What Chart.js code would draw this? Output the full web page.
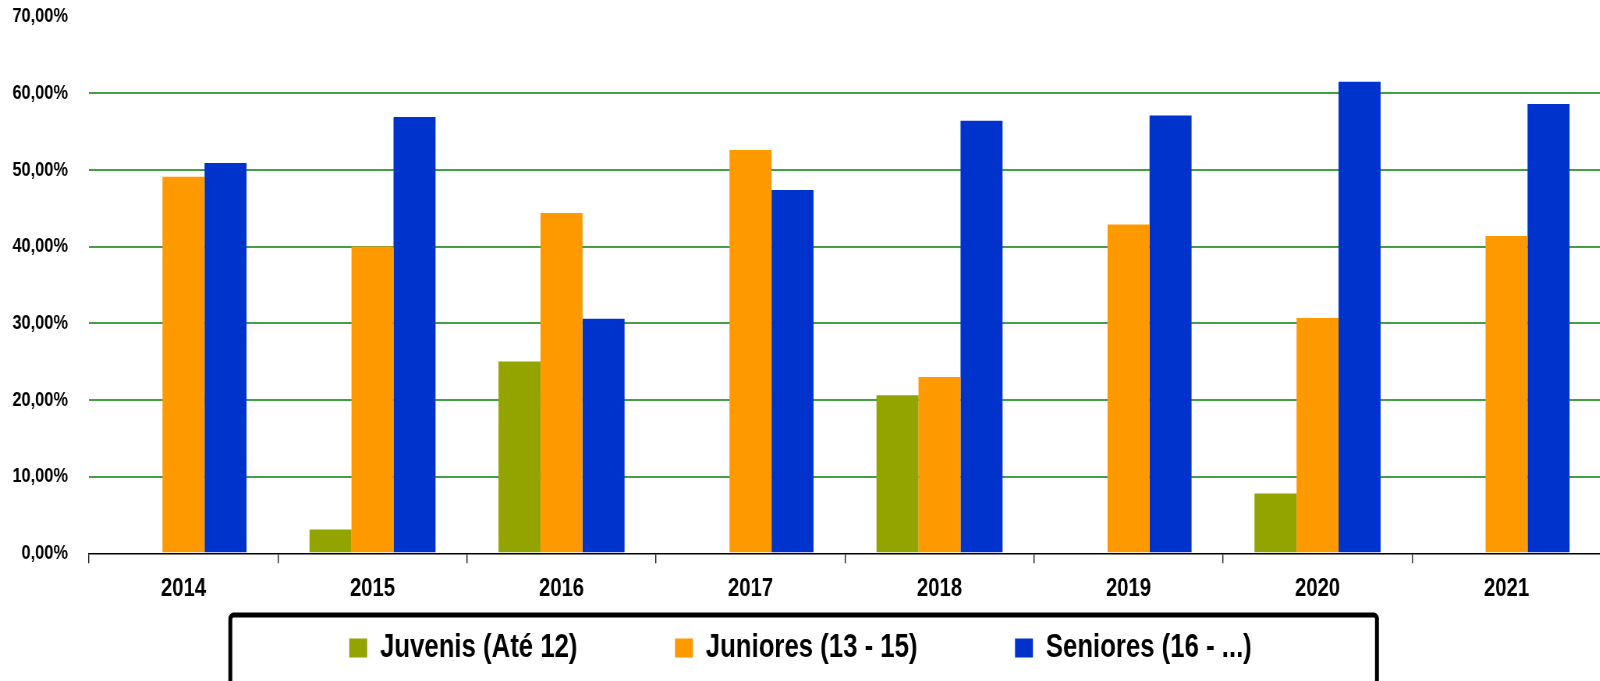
<!DOCTYPE html>
<html>
<head>
<meta charset="utf-8">
<script src="https://cdn.jsdelivr.net/npm/chart.js"></script>
<style>
  html, body { margin: 0; padding: 0; background: #fff; overflow: hidden; }
  #wrap { width: 1600px; height: 681px; overflow: hidden; position: relative; }
  /* a fonte do original é condensada: o canvas inteiro é comprimido na horizontal */
  #chart { position: absolute; left: 0; top: -23px; transform: scaleX(0.78); transform-origin: 0 0; }
</style>
</head>
<body>
<div id="wrap"><canvas id="chart" width="2054" height="720"></canvas></div>
<script>
// dados (percentagens por escalão)
const years = ['2014', '2015', '2016', '2017', '2018', '2019', '2020', '2021'];
const juvenis = [0, 3.1, 25.0, 0, 20.6, 0, 7.8, 0];
const juniores = [49.1, 40.0, 44.4, 52.6, 23.0, 42.9, 30.7, 41.4];
const seniores = [50.9, 56.9, 30.6, 47.4, 56.4, 57.1, 61.5, 58.6];
const yTicks = [0, 10, 20, 30, 40, 50, 60, 70];

const FONT = '"Liberation Sans", Arial, sans-serif';
const LEG_FONT = 33;
const LEG_PAD = 125;
const LEG_CENTER = 671; // centro vertical dos itens da legenda (px do canvas)
const FRAME_TOP = 638;

// a legenda usa o mesmo padding na vertical e na horizontal; sobe-se a caixa
const legendShift = {
  id: 'legendShift',
  afterLayout(chart) {
    const lg = chart.legend;
    if (!lg) return;
    lg.top = LEG_CENTER - LEG_FONT / 2 - LEG_PAD;
    lg.bottom = chart.height;
    lg.height = lg.bottom - lg.top;
  }
};

// moldura preta à volta da legenda
const legendFrame = {
  id: 'legendFrame',
  afterDraw(chart) {
    const lg = chart.legend;
    if (!lg) return;
    const cx = (lg.left + lg.right) / 2 + 4;
    const halfW = 735;
    const y1 = chart.height + 10;
    const ctx = chart.ctx;
    ctx.save();
    ctx.lineWidth = 5;
    ctx.strokeStyle = '#000';
    ctx.beginPath();
    ctx.roundRect(cx - halfW, FRAME_TOP, 2 * halfW, y1 - FRAME_TOP, 4);
    ctx.stroke();
    ctx.restore();
  }
};

new Chart(document.getElementById('chart'), {
  type: 'bar',
  data: {
    labels: years,
    datasets: [
      { label: 'Juvenis (Até 12)', data: juvenis, backgroundColor: '#93a300' },
      { label: 'Juniores (13 - 15)', data: juniores, backgroundColor: '#ff9900' },
      { label: 'Seniores (16 - ...)', data: seniores, backgroundColor: '#0033cc' }
    ]
  },
  options: {
    responsive: false,
    animation: false,
    layout: { padding: { left: 0, right: 1.4, top: 0, bottom: 0 } },
    datasets: { bar: { categoryPercentage: 0.667, barPercentage: 1, borderWidth: 0 } },
    plugins: {
      tooltip: { enabled: false },
      legend: {
        position: 'bottom',
        maxHeight: 82.5,
        labels: {
          boxWidth: 23,
          boxHeight: 19,
          padding: LEG_PAD,
          color: '#000',
          font: { family: FONT, size: LEG_FONT, weight: 'bold' }
        }
      }
    },
    scales: {
      x: {
        grid: {
          offset: true,
          drawOnChartArea: false,
          drawTicks: true,
          tickLength: 10,
          color: '#222',
          lineWidth: 1.4
        },
        border: { display: true, color: '#000', width: 1.5 },
        ticks: { color: '#000', padding: 10, font: { family: FONT, size: 26, weight: 'bold' } }
      },
      y: {
        min: 0,
        max: 70,
        afterFit(scale) { scale.width = 114.1; },
        afterBuildTicks(scale) { scale.ticks = yTicks.map(v => ({ value: v })); },
        grid: {
          drawTicks: false,
          lineWidth: 2,
          color: ctx => (ctx.tick && (ctx.tick.value === 0 || ctx.tick.value === 70)) ? 'rgba(0,0,0,0)' : '#45a045'
        },
        border: { display: false },
        ticks: {
          color: '#000',
          padding: 27,
          font: { family: FONT, size: 21, weight: 'bold' },
          callback: v => v.toFixed(2).replace('.', ',') + '%'
        }
      }
    }
  },
  plugins: [legendShift, legendFrame]
});
</script>
</body>
</html>
